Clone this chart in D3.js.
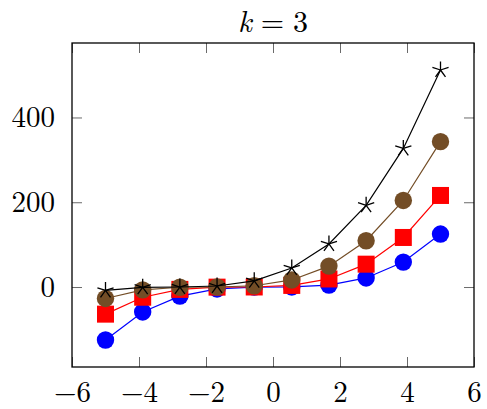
<!DOCTYPE html>
<html>
<head>
<meta charset="utf-8">
<script src="https://cdn.jsdelivr.net/npm/d3@7"></script>
<style>
  body { margin: 0; background: #fff; }
  svg text { font-family: "Latin Modern Roman", "CMU Serif", "Liberation Serif", serif; }
</style>
</head>
<body>
<div id="chart"></div>
<script>
// sample positions and the four series
const xValues = [-5, -3.89, -2.78, -1.67, -0.56, 0.56, 1.67, 2.78, 3.89, 5];
const blueValues = [-125, -58.8, -21.4, -4.6, -0.2, 0.2, 4.6, 21.4, 58.8, 125];
const redValues = [-64, -24.1, -5.6, -0.3, 0.1, 3.8, 19.0, 53.9, 116.9, 216];
const brownValues = [-27, -6.7, -0.5, 0.0, 3.0, 16.7, 49.3, 109.1, 204.2, 343];
const blackValues = [-8, -0.7, 0.0, 2.4, 14.6, 45.0, 101.7, 192.8, 327.0, 512];
const xTicks = [-6, -4, -2, 0, 2, 4, 6];
const yTicks = [0, 200, 400];

const seriesList = [
    { name: "blue", values: blueValues, color: "#0000ff", mark: "circle" },
    { name: "red", values: redValues, color: "#ff0000", mark: "square" },
    { name: "brown", values: brownValues, color: "#734d26", mark: "circle" },
    { name: "black", values: blackValues, color: "#000000", mark: "star" }
];

const margin = { top: 43, right: 13, bottom: 42, left: 72 };
const size = { width: 487, height: 409 };
const width = size.width - margin.left - margin.right;
const height = size.height - margin.top - margin.bottom;

const svg = d3.select("#chart").append("svg")
    .attr("width", size.width)
    .attr("height", size.height);

const g = svg.append("g")
    .attr("transform", `translate(${margin.left},${margin.top})`);

// pgfplots style: limits enlarged by 10% of the data range
const allY = seriesList.flatMap(s => s.values);
const yMin = d3.min(allY), yMax = d3.max(allY);
const yPad = (yMax - yMin) * 0.1;

const xScale = d3.scaleLinear().domain([-6, 6]).range([0, width]);
const yScale = d3.scaleLinear().domain([yMin - yPad, yMax + yPad]).range([height, 0]);

const fmt = d => d < 0 ? "\u2212" + Math.abs(d) : String(d);

// x axis, ticks inward on bottom and top
g.append("g")
    .attr("transform", `translate(0,${height})`)
    .call(d3.axisBottom(xScale).tickValues(xTicks).tickSize(-10).tickPadding(14).tickFormat(fmt))
    .call(a => a.select(".domain").remove())
    .call(a => a.selectAll("line").attr("stroke", "#444").attr("stroke-width", 0.8))
    .call(a => a.selectAll("text").attr("font-size", 29).attr("fill", "#000"));

g.append("g")
    .call(d3.axisTop(xScale).tickValues(xTicks).tickSize(-10).tickFormat(""))
    .call(a => a.select(".domain").remove())
    .call(a => a.selectAll("line").attr("stroke", "#444").attr("stroke-width", 0.8));

// y axis, ticks inward on left and right
g.append("g")
    .call(d3.axisLeft(yScale).tickValues(yTicks).tickSize(-10).tickPadding(17).tickFormat(fmt))
    .call(a => a.select(".domain").remove())
    .call(a => a.selectAll("line").attr("stroke", "#444").attr("stroke-width", 0.8))
    .call(a => a.selectAll("text").attr("font-size", 29).attr("fill", "#000"));

g.append("g")
    .attr("transform", `translate(${width},0)`)
    .call(d3.axisRight(yScale).tickValues(yTicks).tickSize(-10).tickFormat(""))
    .call(a => a.select(".domain").remove())
    .call(a => a.selectAll("line").attr("stroke", "#444").attr("stroke-width", 0.8));

// plot box
g.append("rect")
    .attr("width", width)
    .attr("height", height)
    .attr("fill", "none")
    .attr("stroke", "#000")
    .attr("stroke-width", 1.3);

const line = d3.line()
    .x((d, i) => xScale(xValues[i]))
    .y(d => yScale(d));

// 5-spoke star like pgf's mark=star
const starPath = r => d3.range(5).map(k => {
    const a = -Math.PI / 2 + k * 2 * Math.PI / 5;
    return `M0,0L${r * Math.cos(a)},${r * Math.sin(a)}`;
}).join("");

seriesList.forEach(s => {
    const sg = g.append("g").attr("class", `series-${s.name}`);

    sg.append("path")
        .datum(s.values)
        .attr("fill", "none")
        .attr("stroke", s.color)
        .attr("stroke-width", 1.2)
        .attr("d", line);

    const marks = sg.selectAll(".mark")
        .data(s.values)
        .join("g")
        .attr("class", "mark")
        .attr("transform", (d, i) => `translate(${xScale(xValues[i])},${yScale(d)})`);

    if (s.mark === "circle") {
        marks.append("circle").attr("r", 8.7).attr("fill", s.color);
    } else if (s.mark === "square") {
        marks.append("rect")
            .attr("x", -8.5).attr("y", -8.5)
            .attr("width", 17).attr("height", 17)
            .attr("fill", s.color);
    } else {
        marks.append("path")
            .attr("d", starPath(8.5))
            .attr("stroke", s.color)
            .attr("stroke-width", 1.3)
            .attr("fill", "none");
    }
});

// title "k = 3": three pieces laid out side by side, centred over the plot
const titleParts = [
    { text: "k", italic: true, gap: 0 },
    { text: "=", italic: false, gap: 9 },
    { text: "3", italic: false, gap: 9 }
];
const titleG = svg.append("g").attr("class", "title");
const titleTexts = titleG.selectAll("text")
    .data(titleParts)
    .join("text")
    .attr("y", 32)
    .attr("font-size", 30)
    .attr("font-style", d => d.italic ? "italic" : "normal")
    .text(d => d.text);

let cursor = 0;
titleTexts.each(function (d) {
    cursor += d.gap;
    d.x = cursor;
    cursor += this.getComputedTextLength();
});
const titleStart = margin.left + width / 2 - cursor / 2;
titleTexts.attr("x", d => titleStart + d.x);
</script>
</body>
</html>
